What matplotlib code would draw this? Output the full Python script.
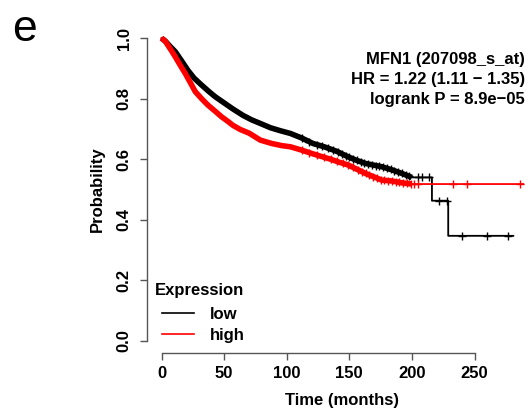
import numpy as np
import matplotlib.pyplot as plt
from matplotlib.lines import Line2D

plt.rcParams['font.family'] = ['Liberation Sans', 'DejaVu Sans']

# survival curve for low expression (black)
low_t = [0, 3, 7, 11, 16, 21, 26, 32, 38, 43, 50, 57, 65, 72, 79, 87, 95, 103,
         112, 121, 130, 140, 149, 156, 163, 170, 176, 184, 192, 200, 216, 216,
         229, 229, 281]
low_s = [1.0, 0.99, 0.972, 0.955, 0.925, 0.894, 0.868, 0.845, 0.823, 0.806,
         0.786, 0.766, 0.745, 0.730, 0.718, 0.704, 0.694, 0.685, 0.670, 0.652,
         0.641, 0.626, 0.608, 0.596, 0.586, 0.580, 0.575, 0.565, 0.553, 0.540,
         0.540, 0.463, 0.463, 0.347, 0.347]
low_cens = [112, 118, 124, 128, 133, 137, 141, 144, 147, 150, 153, 156, 159,
            162, 165, 168, 171, 174, 177, 180, 183, 186, 189, 192, 195, 198,
            205, 208, 214, 222, 228, 240, 260, 277]

# survival curve for high expression (red)
high_t = [0, 3, 5, 8, 11, 15, 19, 23, 27, 32, 37, 43, 48, 53, 57, 63, 70, 79,
          88, 96, 103, 112, 120, 127, 135, 142, 149, 156, 163, 170, 176, 184,
          192, 200, 289]
high_s = [1.0, 0.99, 0.977, 0.958, 0.938, 0.91, 0.883, 0.853, 0.823, 0.80,
          0.779, 0.758, 0.740, 0.725, 0.712, 0.698, 0.686, 0.663, 0.652, 0.645,
          0.641, 0.630, 0.619, 0.610, 0.600, 0.590, 0.581, 0.567, 0.553, 0.541,
          0.531, 0.528, 0.522, 0.518, 0.518]
high_cens = [112, 118, 124, 130, 135, 140, 145, 149, 153, 157, 160, 163, 166,
             169, 172, 175, 178, 181, 184, 187, 190, 193, 196, 199, 202, 205,
             233, 244, 286]

W, H = 530, 411
fig = plt.figure(figsize=(W / 100, H / 100), dpi=100)
ax = fig.add_axes([147 / W, 58 / H, 389.6 / W, 327 / H])

for t, s, cens, col in [(low_t, low_s, low_cens, 'black'),
                        (high_t, high_s, high_cens, 'red')]:
    t = np.array(t)
    s = np.array(s)
    ax.plot(t, s, color=col, lw=1.3)
    dense = t <= 200
    ax.plot(t[dense], s[dense], color=col, lw=4.0, solid_capstyle='butt')
    ax.plot(cens, np.interp(cens, t, s), ls='none', marker='+', ms=6,
            mew=1.0, color=col)

ax.set_xlim(-11.6, 299.6)
ax.set_ylim(-0.04, 1.04)
for side in ['top', 'right']:
    ax.spines[side].set_visible(False)
ax.spines['left'].set_bounds(0, 1)
ax.spines['bottom'].set_bounds(0, 250)
for side in ['left', 'bottom']:
    ax.spines[side].set_color('#555555')
    ax.spines[side].set_linewidth(1.0)

ax.set_xticks([0, 50, 100, 150, 200, 250])
ax.set_yticks([0, 0.2, 0.4, 0.6, 0.8, 1.0])
ax.set_yticklabels(['0.0', '0.2', '0.4', '0.6', '0.8', '1.0'],
                   rotation=90, va='center')
ax.tick_params(axis='both', length=5, width=1.0, color='#555555',
               labelsize=12)
ax.tick_params(axis='y', pad=6)
ax.tick_params(axis='x', pad=4)
for lab in ax.get_xticklabels() + ax.get_yticklabels():
    lab.set_fontweight('bold')

fig.text(341.8 / W, 1 - 400 / H, 'Time (months)', ha='center', va='center',
         fontsize=12, fontweight='bold')
fig.text(97 / W, 1 - 189 / H, 'Probability', ha='center', va='center',
         rotation=90, fontsize=12, fontweight='bold')

info = ['MFN1 (207098_s_at)', 'HR = 1.22 (1.11 \u2212 1.35)',
        'logrank P = 8.9e\u221205']
for i, line in enumerate(info):
    fig.text(525 / W, 1 - (59.5 + 20 * i) / H, line, ha='right', va='center',
             fontsize=12, fontweight='bold')

fig.text(155 / W, 1 - 290.7 / H, 'Expression', ha='left', va='center',
         fontsize=12, fontweight='bold')
handles = [Line2D([], [], color='black', lw=1.2),
           Line2D([], [], color='red', lw=1.2)]
leg = fig.legend(handles, ['low', 'high'], loc='upper left',
                 bbox_to_anchor=(162 / W, 1 - 307 / H), frameon=False,
                 borderpad=0, borderaxespad=0, handlelength=1.92,
                 handletextpad=0.96, labelspacing=0.35,
                 prop={'size': 12, 'weight': 'bold'})

fig.text(12 / W, 1 - 41 / H, 'e', ha='left', va='baseline', fontsize=32)

fig.savefig('out.png', dpi=100)
